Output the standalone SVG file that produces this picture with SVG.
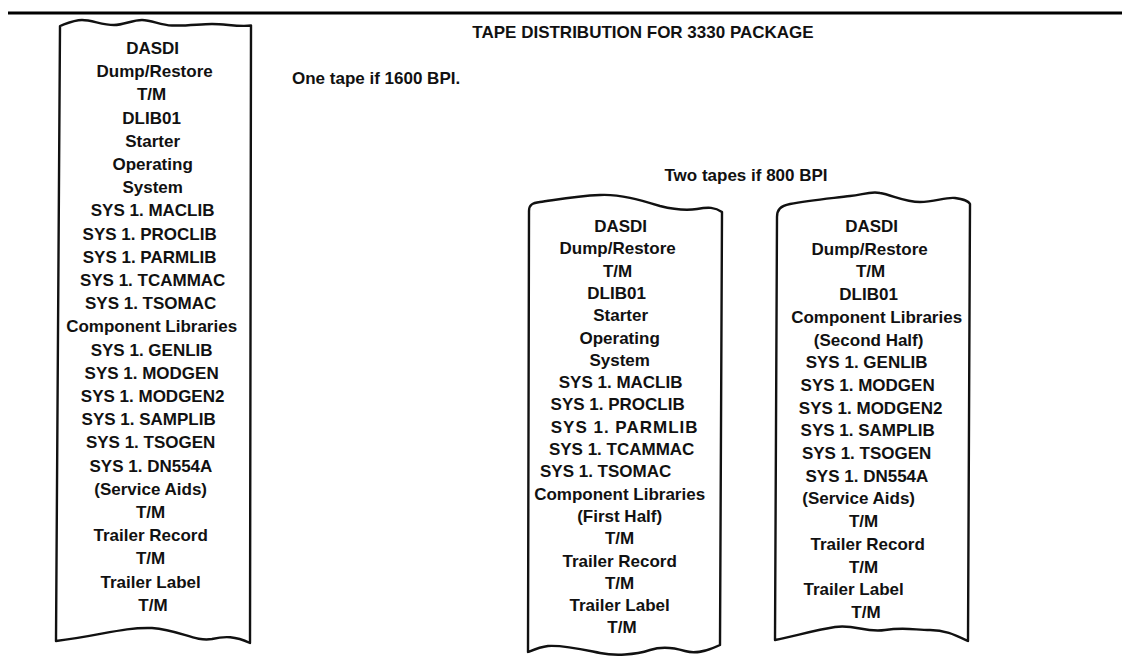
<svg xmlns="http://www.w3.org/2000/svg" width="1122" height="656" viewBox="0 0 1122 656">
<style>
  .bg { fill: #ffffff; }
  .rule { stroke: #000; stroke-width: 3; }
  .tape { fill: #ffffff; stroke: #111; stroke-width: 2.4; stroke-linejoin: round; }
  .t { font-family: "Liberation Sans", Arial, sans-serif; font-weight: bold; font-size: 17px; fill: #111; text-anchor: middle; }
  .l { text-anchor: start; }
</style>
<rect class="bg" x="0" y="0" width="1122" height="656"/>
<line class="rule" x1="8" y1="13" x2="1122" y2="13"/>

<g id="headings">
  <text class="t" x="643" y="38">TAPE DISTRIBUTION FOR 3330 PACKAGE</text>
  <text class="t l" x="292" y="84">One tape if 1600 BPI.</text>
  <text class="t" x="746" y="181">Two tapes if 800 BPI</text>
</g>

<g id="tape-1600">
  <path class="tape" d="M60,26 C68,23 74,20 82,20 C92,20 102,25 114,25 C124,25 132,20 142,20 C152,20 160,25 172,25.5 C188,26 200,24 212,24 C226,24 238,27 251,25.5 L250,643 C235,636 225,636 212,639 C195,642 180,630 152,628 C122,627 100,636 56,641 Z"/>
  <text class="t" x="154" y="54">
    <tspan x="155">DASDI</tspan>
    <tspan x="157" dy="23.2">Dump/Restore</tspan>
    <tspan x="154" dy="23.2">T/M</tspan>
    <tspan x="154" dy="23.2">DLIB01</tspan>
    <tspan x="155" dy="23.2">Starter</tspan>
    <tspan x="155" dy="23.2">Operating</tspan>
    <tspan x="155" dy="23.2">System</tspan>
    <tspan x="155" dy="23.2">SYS 1. MACLIB</tspan>
    <tspan x="152" dy="23.2">SYS 1. PROCLIB</tspan>
    <tspan x="152" dy="23.2">SYS 1. PARMLIB</tspan>
    <tspan x="155" dy="23.2">SYS 1. TCAMMAC</tspan>
    <tspan x="153" dy="23.2">SYS 1. TSOMAC</tspan>
    <tspan x="154" dy="23.2">Component Libraries</tspan>
    <tspan x="154" dy="23.2">SYS 1. GENLIB</tspan>
    <tspan x="154" dy="23.2">SYS 1. MODGEN</tspan>
    <tspan x="155" dy="23.2">SYS 1. MODGEN2</tspan>
    <tspan x="151" dy="23.2">SYS 1. SAMPLIB</tspan>
    <tspan x="153" dy="23.2">SYS 1. TSOGEN</tspan>
    <tspan x="153" dy="23.2">SYS 1. DN554A</tspan>
    <tspan x="153" dy="23.2">(Service Aids)</tspan>
    <tspan x="153" dy="23.2">T/M</tspan>
    <tspan x="153" dy="23.2">Trailer Record</tspan>
    <tspan x="153" dy="23.2">T/M</tspan>
    <tspan x="153" dy="23.2">Trailer Label</tspan>
    <tspan x="153" dy="23.2">T/M</tspan>
  </text>
</g>

<g id="tape-800-1">
  <path class="tape" d="M529,211 C529,205 532,203 540,202 C555,200 575,196 600,195 C620,194 640,200 660,206 C672,209 685,211 697,209 C708,207 715,207 722,212 L720,645 C705,652 695,654 685,651 C672,647 662,646 650,650 C635,655 615,656 600,653 C585,650 565,645 548,646 C540,647 533,650 528,652 Z"/>
  <text class="t" x="622" y="232">
    <tspan x="623">DASDI</tspan>
    <tspan x="620" dy="22.3">Dump/Restore</tspan>
    <tspan x="620" dy="22.3">T/M</tspan>
    <tspan x="619" dy="22.3">DLIB01</tspan>
    <tspan x="623" dy="22.3">Starter</tspan>
    <tspan x="622" dy="22.3">Operating</tspan>
    <tspan x="622" dy="22.3">System</tspan>
    <tspan x="623" dy="22.3">SYS 1. MACLIB</tspan>
    <tspan x="620" dy="22.3">SYS 1. PROCLIB</tspan>
    <tspan x="627" dy="22.3" letter-spacing="1">SYS 1. PARMLIB</tspan>
    <tspan x="624" dy="22.3">SYS 1. TCAMMAC</tspan>
    <tspan x="608" dy="22.3">SYS 1. TSOMAC</tspan>
    <tspan x="622" dy="22.3">Component Libraries</tspan>
    <tspan x="622" dy="22.3">(First Half)</tspan>
    <tspan x="622" dy="22.3">T/M</tspan>
    <tspan x="622" dy="22.3">Trailer Record</tspan>
    <tspan x="622" dy="22.3">T/M</tspan>
    <tspan x="622" dy="22.3">Trailer Label</tspan>
    <tspan x="622" dy="22.3">T/M</tspan>
  </text>
</g>

<g id="tape-800-2">
  <path class="tape" d="M777,217 C777,210 780,206 790,204 C810,200 835,198 850,196 C862,195 870,191 880,193 C892,195 905,202 920,202 C935,202 945,197 955,198 C962,199 968,200 970,204 L968,641 C955,635 945,630 930,630 C915,630 905,627 885,630 C865,633 855,624 835,627 C815,630 795,636 775,640 Z"/>
  <text class="t" x="872" y="232">
    <tspan x="874">DASDI</tspan>
    <tspan x="872" dy="22.7">Dump/Restore</tspan>
    <tspan x="873" dy="22.7">T/M</tspan>
    <tspan x="871" dy="22.7">DLIB01</tspan>
    <tspan x="879" dy="22.7">Component Libraries</tspan>
    <tspan x="871" dy="22.7">(Second Half)</tspan>
    <tspan x="869" dy="22.7">SYS 1. GENLIB</tspan>
    <tspan x="870" dy="22.7">SYS 1. MODGEN</tspan>
    <tspan x="873" dy="22.7">SYS 1. MODGEN2</tspan>
    <tspan x="870" dy="22.7">SYS 1. SAMPLIB</tspan>
    <tspan x="869" dy="22.7">SYS 1. TSOGEN</tspan>
    <tspan x="869" dy="22.7">SYS 1. DN554A</tspan>
    <tspan x="861" dy="22.7">(Service Aids)</tspan>
    <tspan x="866" dy="22.7">T/M</tspan>
    <tspan x="870" dy="22.7">Trailer Record</tspan>
    <tspan x="866" dy="22.7">T/M</tspan>
    <tspan x="856" dy="22.7">Trailer Label</tspan>
    <tspan x="866" dy="22.7">T/M</tspan>
  </text>
</g>

<g id="connectors"></g>
</svg>
